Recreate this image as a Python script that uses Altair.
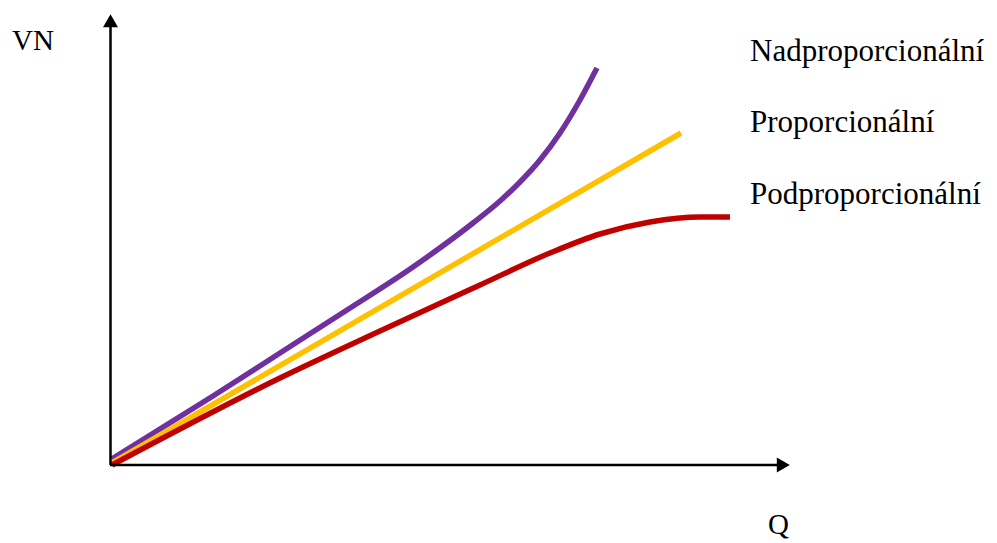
import altair as alt
import pandas as pd

# Values (chart units: Q horizontally, VN vertically)
nad_q = [2, 103, 170, 237, 303, 363, 390, 410, 430, 450, 470, 487]
nad_vn = [6, 69, 112, 155, 198, 242, 264, 283, 305, 332, 365, 397]

pro_q = [2, 571]
pro_vn = [2, 332]

pod_q = [2, 170, 270, 370, 440, 490, 540, 590, 620]
pod_vn = [0, 87, 134, 180, 212, 231, 243, 248, 248]

series_names = ["Nadproporcionální", "Proporcionální", "Podproporcionální"]
series_colors = ["#7030A0", "#FFC000", "#C00000"]

rows = []
for name, qs, vs in zip(series_names, [nad_q, pro_q, pod_q], [nad_vn, pro_vn, pod_vn]):
    for i, (q, v) in enumerate(zip(qs, vs)):
        rows.append({"serie": name, "Q": q, "VN": v, "order": i})
df = pd.DataFrame(rows)

PAD_L, PAD_T = 110, 13
X_DOMAIN = [0, 682]
Y_DOMAIN = [0, 452]
xs = alt.Scale(domain=X_DOMAIN, nice=False, zero=False)
ys = alt.Scale(domain=Y_DOMAIN, nice=False, zero=False)

# axis lines with arrowheads
axes_df = pd.DataFrame({
    "x": [0.5, 0], "x2": [0.5, 675], "y": [0, 0], "y2": [440, 0]
})
axis_lines = alt.Chart(axes_df).mark_rule(color="black", strokeWidth=2.5).encode(
    x=alt.X("x:Q", scale=xs, axis=None),
    x2="x2:Q",
    y=alt.Y("y:Q", scale=ys, axis=None),
    y2="y2:Q",
)

arrows_df = pd.DataFrame({
    "x": [0.5, 673.3], "y": [444.3, 0], "shape": ["triangle-up", "triangle-right"]
})
arrows = alt.Chart(arrows_df).mark_point(filled=True, color="black", opacity=1, size=225).encode(
    x=alt.X("x:Q", scale=xs, axis=None),
    y=alt.Y("y:Q", scale=ys, axis=None),
    shape=alt.Shape("shape:N", scale=None, legend=None),
)

lines = alt.Chart(df).mark_line(strokeWidth=5.5, strokeCap="butt", interpolate="monotone").encode(
    x=alt.X("Q:Q", scale=xs, axis=None),
    y=alt.Y("VN:Q", scale=ys, axis=None),
    color=alt.Color("serie:N", scale=alt.Scale(domain=series_names, range=series_colors), legend=None),
    detail="serie:N",
    order="order:Q",
)

FONT = "Liberation Serif"
axis_text = ["VN", "Q"]
axis_px = [12, 768]
axis_py = [50, 534]
series_px = [750, 750, 750]
series_py = [61, 132, 204]

axis_df = pd.DataFrame({
    "text": axis_text,
    "px": [p - PAD_L for p in axis_px],
    "py": [p - PAD_T for p in axis_py],
})
series_df = pd.DataFrame({
    "text": series_names,
    "px": [p - PAD_L for p in series_px],
    "py": [p - PAD_T for p in series_py],
})

axis_labels = alt.Chart(axis_df).mark_text(
    font=FONT, fontSize=29, align="left", baseline="alphabetic", color="black"
).encode(
    x=alt.X("px:Q", scale=None, axis=None),
    y=alt.Y("py:Q", scale=None, axis=None),
    text="text:N",
)
series_labels = alt.Chart(series_df).mark_text(
    font=FONT, fontSize=31, align="left", baseline="alphabetic", color="black"
).encode(
    x=alt.X("px:Q", scale=None, axis=None),
    y=alt.Y("py:Q", scale=None, axis=None),
    text="text:N",
)

chart = alt.layer(lines, axis_lines, arrows, axis_labels, series_labels).properties(
    width=682,
    height=452,
    padding={"left": PAD_L, "top": PAD_T, "right": 997 - PAD_L - 682, "bottom": 543 - PAD_T - 452},
    autosize=alt.AutoSizeParams(type="none"),
    background="white",
).configure_view(stroke=None)

chart.save("out.html", embed_options={"renderer": "svg", "actions": False})
